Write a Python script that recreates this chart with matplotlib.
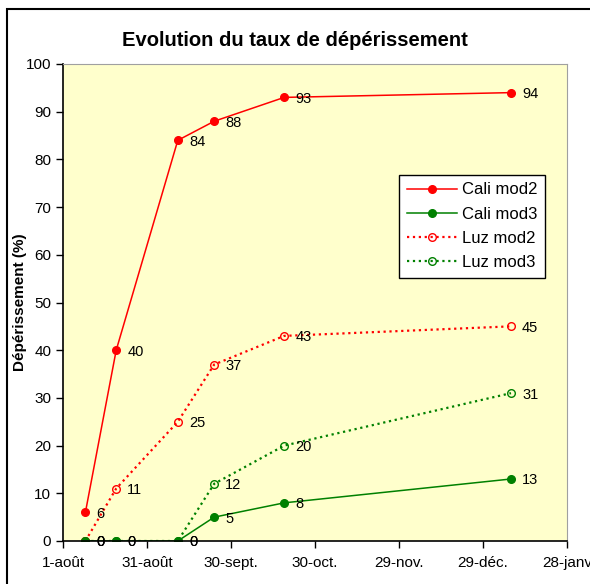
import datetime as dt
import matplotlib
matplotlib.use("Agg")
from matplotlib import pyplot as plt
from matplotlib.patches import Rectangle

plt.rcParams['font.family'] = ['Liberation Sans', 'DejaVu Sans']

# sampling dates
dates = [dt.date(2007, 8, 9), dt.date(2007, 8, 20), dt.date(2007, 9, 11),
         dt.date(2007, 9, 24), dt.date(2007, 10, 19), dt.date(2008, 1, 8)]

cali_mod2 = [6, 40, 84, 88, 93, 94]
cali_mod3 = [0, 0, 0, 5, 8, 13]
luz_mod2 = [0, 11, 25, 37, 43, 45]
luz_mod3 = [0, 0, 0, 12, 20, 31]

tick_dates = [dt.date(2007, 8, 1), dt.date(2007, 8, 31), dt.date(2007, 9, 30),
              dt.date(2007, 10, 30), dt.date(2007, 11, 29), dt.date(2007, 12, 29),
              dt.date(2008, 1, 28)]
tick_labels = ["1-août", "31-août", "30-sept.", "30-oct.", "29-nov.", "29-déc.", "28-janv"]

fig = plt.figure(figsize=(5.9, 5.84), dpi=100)
fig.patches.append(Rectangle((7 / 590, -0.1), 1.2, 1 - 9 / 584 + 0.1,
                             transform=fig.transFigure, fill=False,
                             edgecolor="black", linewidth=1.5))
ax = fig.add_axes([63 / 590, 1 - 541 / 584, 504 / 590, 477 / 584])
ax.set_facecolor("#FFFFCC")

ax.plot(dates, luz_mod3, ":", color="green", lw=1.6, marker="o", ms=5.5,
        mfc="none", mec="green", mew=1, label="Luz mod3")
ax.plot(dates, luz_mod2, ":", color="red", lw=1.6, marker="o", ms=5.5,
        mfc="none", mec="red", mew=1, label="Luz mod2")
ax.plot(dates, cali_mod3, "-", color="green", lw=1.1, marker="o", ms=5.5,
        label="Cali mod3")
ax.plot(dates, cali_mod2, "-", color="red", lw=1.1, marker="o", ms=5.5,
        label="Cali mod2")

for series in [cali_mod2, cali_mod3, luz_mod2, luz_mod3]:
    for d, v in zip(dates, series):
        ax.annotate(str(v), (d, v), xytext=(8, -1), textcoords="offset points",
                    ha="left", va="center", fontsize=10.5, clip_on=False)

ax.set_ylim(0, 100)
ax.set_yticks(range(0, 101, 10))
ax.set_xlim(tick_dates[0], tick_dates[-1])
ax.set_xticks(tick_dates)
ax.set_xticklabels(tick_labels)
ax.tick_params(direction="out", length=5, labelsize=11, width=1)
ax.tick_params(axis="x", pad=6)
for side in ["top", "right"]:
    ax.spines[side].set_color("#A0A0A0")
for side in ["left", "bottom"]:
    ax.spines[side].set_linewidth(1.2)

ax.set_ylabel("Dépérissement (%)", fontsize=11, fontweight="bold")
ax.yaxis.set_label_coords(-36 / 504, 0.5)

handles, labels = ax.get_legend_handles_labels()
order = [3, 2, 1, 0]
leg = ax.legend([handles[i] for i in order], [labels[i] for i in order],
                loc="upper left", bbox_to_anchor=(336 / 504, 1 - 111 / 477),
                borderaxespad=0, fontsize=12, frameon=True, fancybox=False,
                framealpha=1, edgecolor="black", handlelength=3.0,
                borderpad=0.45, labelspacing=0.55, handletextpad=0.35)
leg.get_frame().set_linewidth(1)

fig.text(0.5, 1 - 40 / 584, "Evolution du taux de dépérissement",
         ha="center", va="center", fontsize=14.5, fontweight="bold")

fig.savefig("out.png", dpi=100)
